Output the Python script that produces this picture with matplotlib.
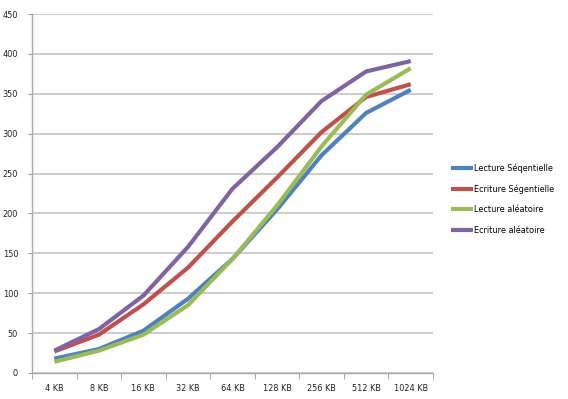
import matplotlib
matplotlib.use("Agg")
import matplotlib.pyplot as plt
import numpy as np

categories = ["4 KB", "8 KB", "16 KB", "32 KB", "64 KB", "128 KB", "256 KB", "512 KB", "1024 KB"]
lecture_seq = [18, 30, 53, 93, 143, 205, 273, 326, 355]
ecriture_seq = [27, 48, 86, 132, 190, 245, 302, 346, 362]
lecture_alea = [14, 28, 48, 85, 143, 210, 284, 349, 382]
ecriture_alea = [28, 55, 97, 158, 231, 283, 341, 378, 391]
series_names = ["Lecture Séqentielle", "Ecriture Ségentielle", "Lecture aléatoire", "Ecriture aléatoire"]
colors = ["#4F81BD", "#C0504D", "#9BBB59", "#8064A2"]
yticks = [0, 50, 100, 150, 200, 250, 300, 350, 400, 450]

plt.rcParams['font.family'] = ['DejaVu Sans']
fs = 5.9
fig = plt.figure(figsize=(5.68, 3.99), dpi=100)
ax = fig.add_axes([32/568, 26/399, (433-32)/568, (373-14)/399])

x = np.arange(len(categories))
for vals, name, c in zip([lecture_seq, ecriture_seq, lecture_alea, ecriture_alea], series_names, colors):
    ax.plot(x, vals, color=c, lw=3, label=name, solid_capstyle='butt', solid_joinstyle='round')

ax.set_xlim(-0.5, len(categories) - 0.5)
ax.set_ylim(0, 450)
ax.set_yticks(yticks)
ax.set_yticklabels([str(v) for v in yticks], fontsize=fs, color="#222222")
ax.set_xticks(x)
ax.set_xticklabels(categories, fontsize=fs, color="#222222")
ax.set_xticks(np.arange(-0.5, len(categories)), minor=True)
ax.tick_params(axis='x', which='major', length=0, pad=8)
ax.tick_params(axis='x', which='minor', length=4, color="#999999", direction='out')
ax.tick_params(axis='y', length=3, color="#999999", pad=7)
ax.yaxis.grid(True, color="#C8C8C8", lw=1.3)
ax.set_axisbelow(True)
for s in ["top", "right"]:
    ax.spines[s].set_visible(False)
for s in ["left", "bottom"]:
    ax.spines[s].set_color("#AAAAAA")
    ax.spines[s].set_linewidth(1.0)

leg = ax.legend(loc='center left', bbox_to_anchor=(451/568, 200/399), bbox_transform=fig.transFigure,
                frameon=False, fontsize=fs, handlelength=2.7, handletextpad=0.1, labelspacing=1.4,
                borderaxespad=0, borderpad=0)
plt.setp(leg.get_lines(), linewidth=3)
fig.savefig("out.png", dpi=100)
